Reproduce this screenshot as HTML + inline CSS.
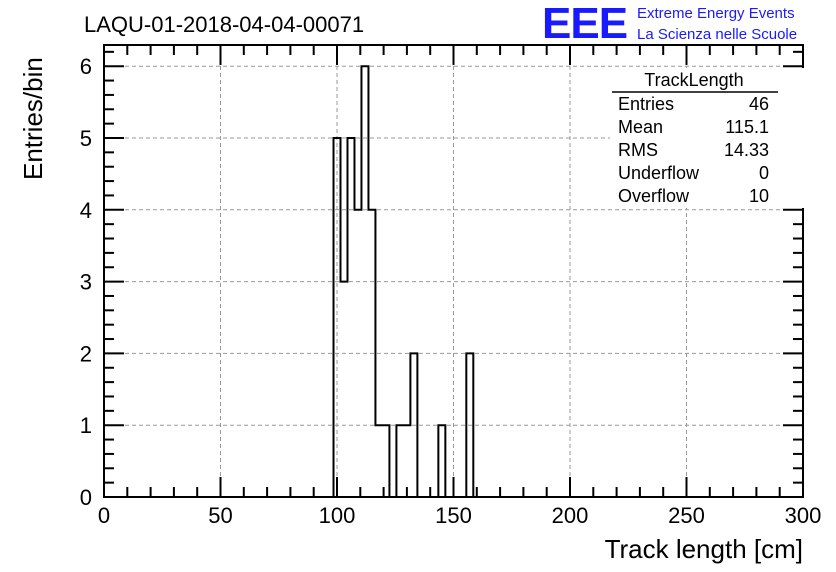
<!DOCTYPE html>
<html><head><meta charset="utf-8"><style>
body{margin:0;background:#fff}
svg{display:block;font-family:"Liberation Sans",Arial,sans-serif}
</style></head><body>
<svg id="c" width="836" height="572" xmlns="http://www.w3.org/2000/svg">
<text x="84" y="32" font-size="22">LAQU-01-2018-04-04-00071</text>
<text x="542" y="38" font-size="44" fill="#1a1aff" font-weight="bold" letter-spacing="-1">EEE</text>
<text x="637" y="18" font-size="15" fill="#1a1aff">Extreme Energy Events</text>
<text x="637" y="39" font-size="15" fill="#1a1aff">La Scienza nelle Scuole</text>
<g id="grid"></g>
<g id="axes"></g>
<path id="hist" fill="none" stroke="#000" stroke-width="2"/>
<text x="803" y="558" font-size="26" text-anchor="end">Track length [cm]</text>
<text transform="translate(42,180) rotate(-90)" font-size="26">Entries/bin</text>
<g>
<rect x="610" y="68" width="194" height="140" fill="#fff" stroke="none"/>
<text x="694" y="86" font-size="18" text-anchor="middle">TrackLength</text>
<line x1="612" y1="92" x2="778" y2="92" stroke="#000" stroke-width="1.5"/>
<text x="618" y="110" font-size="18">Entries</text><text x="769" y="110" font-size="18" text-anchor="end">46</text>
<text x="618" y="133" font-size="18">Mean</text><text x="769" y="133" font-size="18" text-anchor="end">115.1</text>
<text x="618" y="156" font-size="18">RMS</text><text x="769" y="156" font-size="18" text-anchor="end">14.33</text>
<text x="618" y="179" font-size="18">Underflow</text><text x="769" y="179" font-size="18" text-anchor="end">0</text>
<text x="618" y="202" font-size="18">Overflow</text><text x="769" y="202" font-size="18" text-anchor="end">10</text>
</g>
</svg>
<script>
const binStart = 98.5;
const binWidth = 3;
const counts = [5,3,5,4,6,4,1,1,0,1,1,2,0,0,0,1,0,0,0,2];
const xTicks = [0,50,100,150,200,250,300];
const yTicks = [0,1,2,3,4,5,6];
const X0=104,X1=803,Y0=497,YT=45;
const xs=v=>X0+(v-0)*(X1-X0)/300;
const ys=v=>Y0-v*71.8;
const NS="http://www.w3.org/2000/svg";
const g=document.getElementById('grid'),ax=document.getElementById('axes');
function ln(p,x1,y1,x2,y2,st,w,d){const l=document.createElementNS(NS,'line');l.setAttribute('x1',x1);l.setAttribute('y1',y1);l.setAttribute('x2',x2);l.setAttribute('y2',y2);l.setAttribute('stroke',st);l.setAttribute('stroke-width',w);if(d)l.setAttribute('stroke-dasharray',d);p.appendChild(l);return l;}
function tx(p,x,y,s,a){const t=document.createElementNS(NS,'text');t.setAttribute('x',x);t.setAttribute('y',y);t.setAttribute('font-size',22);t.setAttribute('text-anchor',a);t.textContent=s;p.appendChild(t);return t;}
xTicks.forEach(v=>{if(v>0&&v<300){const l=ln(g,xs(v),YT,xs(v),Y0,'#999',1,'4,3');

}
const t=tx(ax,xs(v),523,String(v),'middle');

});
yTicks.forEach(v=>{if(v>0){const l=ln(g,X0,ys(v),X1,ys(v),'#999',1,'4,3');

}
const t=tx(ax,92,ys(v)+8,String(v),'end');

});
for(let v=0;v<=300;v+=10){const L=v%50===0?20:10;ln(ax,xs(v),Y0,xs(v),Y0-L,'#000',2);ln(ax,xs(v),YT,xs(v),YT+L,'#000',2);}
for(let i=0;i<=31;i++){const v=i*0.2;if(ys(v)<YT)break;const L=i%5===0?20:10;ln(ax,X0,ys(v),X0+L,ys(v),'#000',2);ln(ax,X1,ys(v),X1-L,ys(v),'#000',2);}
const fr=document.createElementNS(NS,'rect');fr.setAttribute('x',X0);fr.setAttribute('y',YT);fr.setAttribute('width',X1-X0);fr.setAttribute('height',Y0-YT);fr.setAttribute('fill','none');fr.setAttribute('stroke','#000');fr.setAttribute('stroke-width',2);


ax.appendChild(fr);
let d='M'+xs(binStart)+','+ys(0);
counts.forEach((c,i)=>{const a=xs(binStart+i*binWidth),b=xs(binStart+(i+1)*binWidth);d+=' L'+a+','+ys(c)+' L'+b+','+ys(c);});
d+=' L'+xs(binStart+counts.length*binWidth)+','+ys(0);
document.getElementById('hist').setAttribute('d',d);
</script>
</body></html>
